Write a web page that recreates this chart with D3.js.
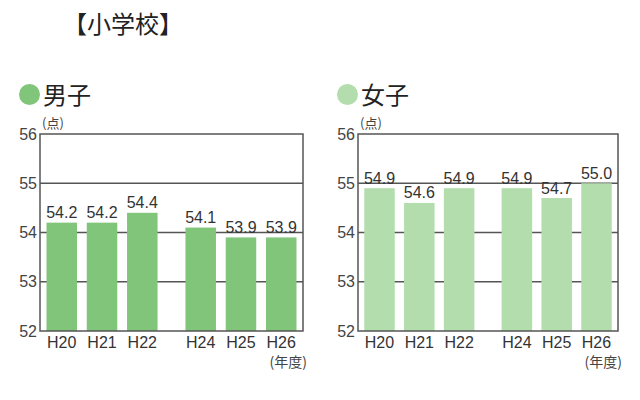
<!DOCTYPE html>
<html><head><meta charset="utf-8">
<script src="https://cdn.jsdelivr.net/npm/d3@7/dist/d3.min.js"></script>
<style>
body{margin:0;background:#fff;}
svg{display:block;}
</style></head>
<body>
<svg id="c" width="640" height="400"></svg>
<script>
const title = "【小学校】";
const categories = ["H20","H21","H22","H24","H25","H26"];
const boysValues = [54.2, 54.2, 54.4, 54.1, 53.9, 53.9];
const girlsValues = [54.9, 54.6, 54.9, 54.9, 54.7, 55.0];
const yTicks = [52, 53, 54, 55, 56];
const gridValues = [53, 54, 55];
const panelLabels = ["男子", "女子"];
const unitLabel = "(点)";
const yearLabel = "(年度)";
const gapAfter = "H22";

const svg = d3.select("#c");
const cjk = "'Noto Sans CJK JP','Noto Sans CJK SC',sans-serif";
const latin = "'Liberation Sans',Arial,sans-serif";

svg.append("text").attr("x",123).attr("y",33).attr("text-anchor","middle")
  .attr("font-family",cjk).attr("font-size",24).attr("fill","#222").text(title);

function panel(left, right, values, color, label){
  const top = 134, bottom = 331;
  const y = d3.scaleLinear().domain([52,56]).range([bottom, top]);
  const gapIdx = categories.indexOf(gapAfter);
  const slot = i => i + (i > gapIdx ? 0.45 : 0);
  const x = d3.scaleLinear().domain([-0.54, slot(categories.length-1)+0.54]).range([left, right]);
  const bw = 30.5;
  const g = svg.append("g");

  // legend
  g.append("circle").attr("cx", left-10.5).attr("cy", 94.5).attr("r", 10.5).attr("fill", color);
  g.append("text").attr("x", left+3).attr("y", 104).attr("font-family",cjk).attr("font-size",24)
    .attr("fill","#222").text(label);

  // grid
  g.selectAll("line.grid").data(gridValues).join("line").attr("class","grid")
    .attr("x1",left).attr("x2",right).attr("y1",d=>y(d)).attr("y2",d=>y(d))
    .attr("stroke","#555").attr("stroke-width",1.3);

  // bars
  g.selectAll("rect.bar").data(values).join("rect").attr("class","bar")
    .attr("x",(d,i)=>x(slot(i))-bw/2).attr("width",bw)
    .attr("y",d=>y(d)).attr("height",d=>y(52)-y(d)).attr("fill",color);

  // frame
  g.append("rect").attr("x",left).attr("y",top).attr("width",right-left).attr("height",bottom-top)
    .attr("fill","none").attr("stroke","#555").attr("stroke-width",1.5);

  // value labels
  g.selectAll("text.val").data(values).join("text").attr("class","val")
    .attr("x",(d,i)=>x(slot(i))).attr("y",d=>y(d)-4.5).attr("text-anchor","middle")
    .attr("font-family",latin).attr("font-size",16).attr("fill","#333")
    .text(d=>d.toFixed(1));

  // y ticks
  const yAxis = d3.axisLeft(y).tickValues(yTicks).tickSize(0).tickPadding(3).tickFormat(d3.format("d"));
  const ya = g.append("g").attr("transform",`translate(${left},0)`).call(yAxis);
  ya.select(".domain").remove();
  ya.selectAll("text").attr("font-family",latin).attr("font-size",16).attr("fill","#444");

  // x labels
  const xa = g.append("g").attr("transform",`translate(0,${bottom})`);
  xa.selectAll("text").data(categories).join("text")
    .attr("x",(d,i)=>x(slot(i))).attr("y",16.5).attr("text-anchor","middle")
    .attr("font-family",latin).attr("font-size",16).attr("fill","#333").text(d=>d);

  g.append("text").attr("x",left+2).attr("y",top-6).attr("font-family",cjk).attr("font-size",13)
    .attr("fill","#444").text(unitLabel);
  g.append("text").attr("x",right+4).attr("y",bottom+36).attr("text-anchor","end")
    .attr("font-family",cjk).attr("font-size",14).attr("fill","#444").text(yearLabel);
}

panel(40, 303, boysValues, "#80c57a", panelLabels[0]);
panel(358, 618, girlsValues, "#b4ddae", panelLabels[1]);
</script>
</body></html>
